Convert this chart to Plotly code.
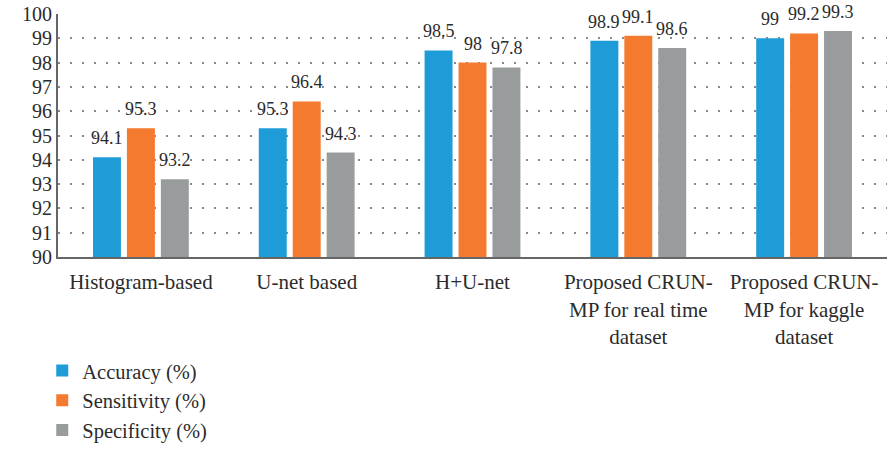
import plotly.graph_objects as go

categories = [
    "Histogram-based",
    "U-net based",
    "H+U-net",
    "Proposed CRUN-<br>MP for real time<br>dataset",
    "Proposed CRUN-<br>MP for kaggle<br>dataset",
]
accuracy = [94.1, 95.3, 98.5, 98.9, 99.0]
sensitivity = [95.3, 96.4, 98.0, 99.1, 99.2]
specificity = [93.2, 94.3, 97.8, 98.6, 99.3]

series_names = ["Accuracy (%)", "Sensitivity (%)", "Specificity (%)"]
series_values = [accuracy, sensitivity, specificity]
series_colors = ["#1E9CD7", "#F37A2F", "#999C9D"]
label_xshift = [-34, 0, 34]  # px offset of each series' bar from group centre

FONT = "Times New Roman, Liberation Serif, serif"
TEXT = "#2b2b2b"

fig = go.Figure()
for name, vals, col in zip(series_names, series_values, series_colors):
    fig.add_trace(go.Bar(
        x=categories, y=vals, name=name, marker_color=col,
        marker_line_width=0,
    ))

for vals, dx in zip(series_values, label_xshift):
    for cat, v in zip(categories, vals):
        fig.add_annotation(
            x=cat, y=v, xref="x", yref="y", text=f"{v:g}",
            showarrow=False, xanchor="center", yanchor="bottom",
            xshift=dx, yshift=7,
            font=dict(family=FONT, size=18, color=TEXT),
        )

fig.update_layout(
    width=887, height=449,
    margin=dict(l=58, r=0, t=14, b=192, autoexpand=False),
    paper_bgcolor="white", plot_bgcolor="white",
    barmode="group", bargap=0.386, bargroupgap=0.176,
    font=dict(family=FONT, size=20, color=TEXT),
    showlegend=True,
    legend=dict(
        orientation="v", x=-0.019, xanchor="left", y=-0.386, yanchor="top",
        font=dict(family=FONT, size=20.5, color=TEXT),
        bgcolor="rgba(0,0,0,0)", traceorder="normal",
    ),
)
fig.update_xaxes(
    showline=True, linecolor="#666666", linewidth=2,
    ticks="", ticklabelstandoff=5,
    tickfont=dict(family=FONT, size=21, color=TEXT),
    showgrid=False,
)
fig.update_yaxes(
    range=[90, 100], dtick=1, tick0=90,
    showline=True, linecolor="#666666", linewidth=2,
    ticks="", tickfont=dict(family=FONT, size=20, color=TEXT),
    showgrid=True, gridcolor="#8a8a8a", gridwidth=1.5, griddash="2px,10px",
    zeroline=False,
)

fig.write_html("out.html")
